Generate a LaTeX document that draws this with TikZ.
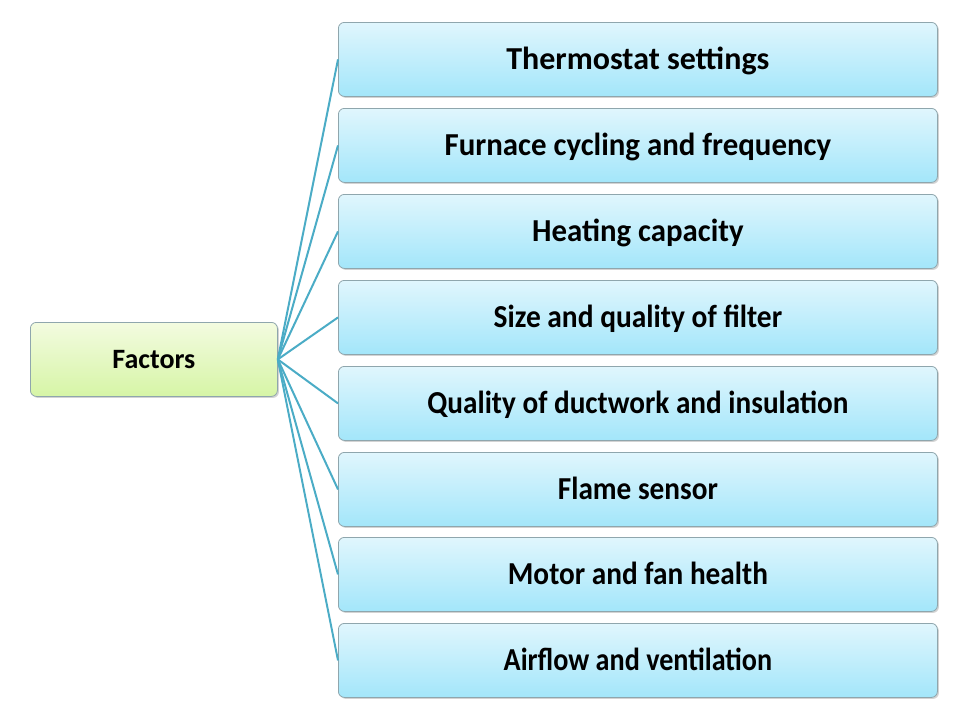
\documentclass[tikz,border=0pt]{standalone}
\usepackage{fontspec}
\setmainfont{Carlito}
\usetikzlibrary{shadows}
\definecolor{linkc}{HTML}{4BACC6}
\definecolor{btop}{HTML}{E0F6FD}
\definecolor{bbot}{HTML}{A3E6FA}
\definecolor{gtop}{HTML}{F3FBE0}
\definecolor{gbot}{HTML}{D6F5A6}
\definecolor{edgec}{HTML}{8FA6AD}
\tikzset{
  itembox/.style={draw=edgec, line width=0.8pt, rounded corners=6pt,
    top color=btop, bottom color=bbot, minimum width=599pt, minimum height=74pt,
    anchor=north west, inner sep=0pt, text height=21pt, text depth=0pt,
    font=\bfseries\fontsize{32}{36}\selectfont,
    drop shadow={shadow xshift=1.5pt, shadow yshift=-1.5pt, opacity=0.35}},
  rootbox/.style={draw=edgec, line width=0.8pt, rounded corners=6pt,
    top color=gtop, bottom color=gbot, minimum width=247pt, minimum height=74pt,
    anchor=north west, inner sep=0pt, text height=18pt, text depth=0pt,
    font=\bfseries\fontsize{28}{32}\selectfont,
    drop shadow={shadow xshift=1.5pt, shadow yshift=-1.5pt, opacity=0.35}},
  link/.style={draw=linkc, line width=2pt}
}
\newcommand{\sq}[2]{\scalebox{#1}[1]{#2}}
\begin{document}
\begin{tikzpicture}[x=1pt,y=-1pt]
\useasboundingbox (0,0) rectangle (960,720);
\node[rootbox] (root) at (30,322) {Factors};
\node[itembox] (b1) at (338,22) {Thermostat settings};
\node[itembox] (b2) at (338,108) {\sq{0.965}{Furnace cycling and frequency}};
\node[itembox] (b3) at (338,194) {\sq{0.963}{Heating capacity}};
\node[itembox] (b4) at (338,280) {\sq{0.92}{Size and quality of filter}};
\node[itembox] (b5) at (338,366) {\sq{0.913}{Quality of ductwork and insulation}};
\node[itembox] (b6) at (338,452) {\sq{0.914}{Flame sensor}};
\node[itembox] (b7) at (338,537) {\sq{0.915}{Motor and fan health}};
\node[itembox] (b8) at (338,623) {\sq{0.88}{Airflow and ventilation}};
\foreach \b in {b1,b2,b3,b4,b5,b6,b7,b8}
  \draw[link] (root.east) -- (\b.west);
\end{tikzpicture}
\end{document}
